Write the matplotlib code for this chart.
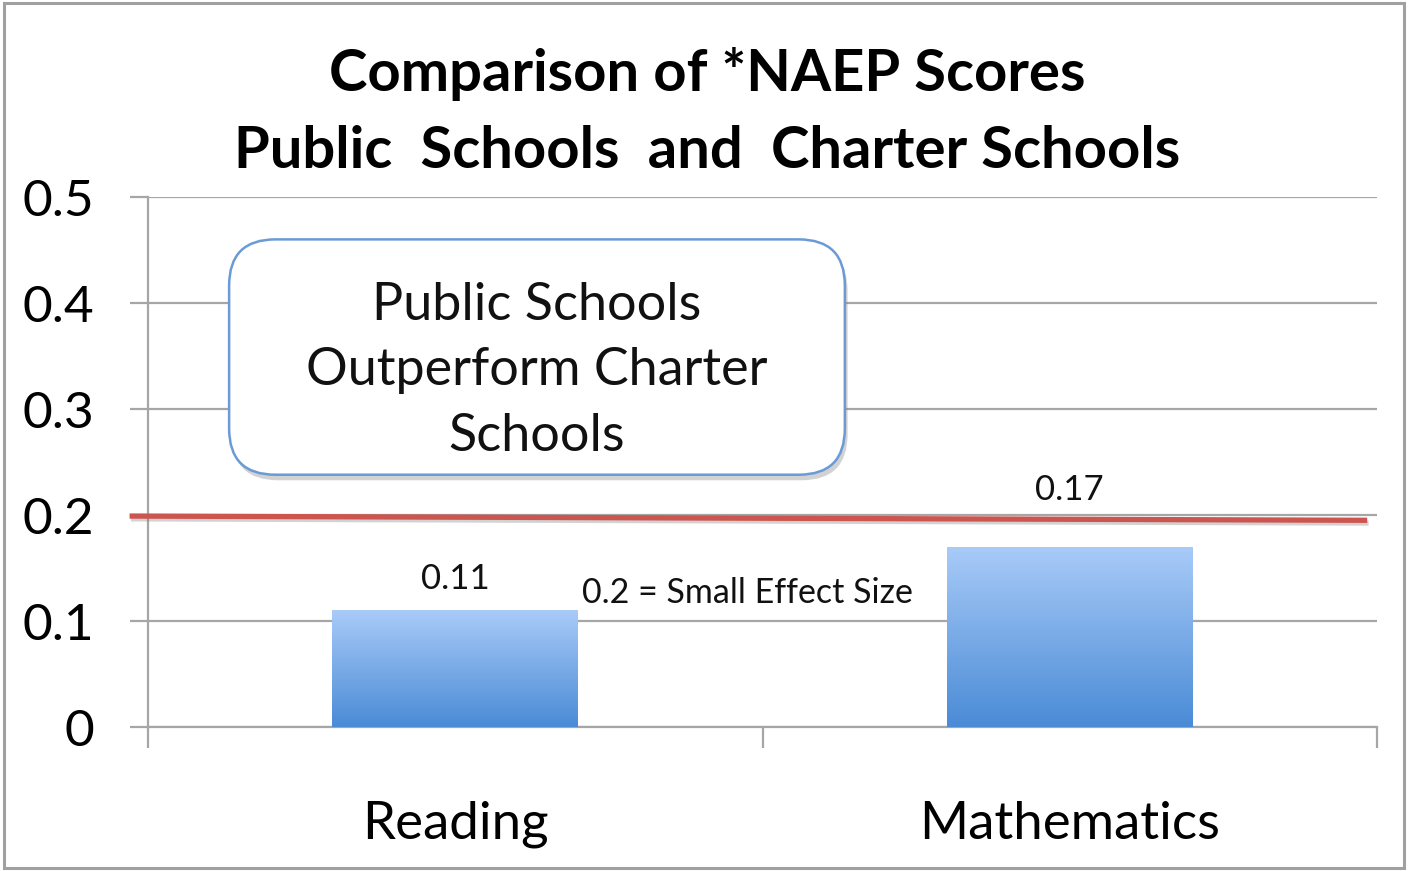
import numpy as np
import matplotlib
matplotlib.use("Agg")
import matplotlib.pyplot as plt
import matplotlib.patheffects as pe
from matplotlib.patches import FancyBboxPatch, Rectangle

plt.rcParams['font.family'] = ['Lato', 'DejaVu Sans']

# data
categories = ["Reading", "Mathematics"]
scores = [0.11, 0.17]
score_labels = ["0.11", "0.17"]
effect_size = 0.2
effect_label = "0.2 = Small Effect Size"
title = "Comparison of *NAEP Scores\nPublic  Schools  and  Charter Schools"
callout = "Public Schools\nOutperform Charter\nSchools"
yticks = [0, 0.1, 0.2, 0.3, 0.4, 0.5]
ytick_labels = ["0", "0.1", "0.2", "0.3", "0.4", "0.5"]

grid_col = "#a6a6a6"

fig = plt.figure(figsize=(14.08, 8.71), dpi=100)
# grey frame round the whole chart
fig.patches.append(Rectangle((0.003, 0.004), 0.994, 0.992, transform=fig.transFigure,
                             fill=False, edgecolor="#a0a0a0", linewidth=2.2))

ax = fig.add_axes([148/1408, 1 - 727/871, 1229/1408, 530/871])
x = np.arange(len(categories))

# bars with vertical gradient
bars = ax.bar(x, scores, width=0.4, color="none", edgecolor="none", zorder=3)
grad = np.linspace(0, 1, 256).reshape(-1, 1)
cmap = matplotlib.colors.LinearSegmentedColormap.from_list("g", ["#4a8bd6", "#a9cbf8"])
for b in bars:
    x0, y0 = b.get_x(), b.get_y()
    im = ax.imshow(grad, cmap=cmap, origin="lower", aspect="auto",
                   extent=(x0, x0 + b.get_width(), y0, y0 + b.get_height()), zorder=3)
    im.set_clip_path(b)
ax.set_xlim(-0.5, 1.5)
ax.set_ylim(0, 0.5)

# value labels (the maths one sits above the reference line)
for xi, v, lab, off in zip(x, scores, score_labels, [0.03, 0.054]):
    ax.text(xi, v + off, lab, ha="center", va="center", fontsize=25, color="#111111", zorder=5)

# grid and axes
ax.set_yticks(yticks)
ax.set_yticklabels(ytick_labels)
ax.yaxis.grid(True, color=grid_col, linewidth=1.6, zorder=0)
ax.set_axisbelow(True)
ax.set_xticks([-0.5, 0.5, 1.5])
ax.set_xticklabels([])
ax.set_xticks(x, minor=True)
ax.set_xticklabels(categories, minor=True)
ax.tick_params(axis="x", which="major", length=15, width=1.6, color=grid_col)
ax.tick_params(axis="x", which="minor", length=0, pad=53, labelsize=38)
ax.tick_params(axis="y", length=13, width=1.6, color=grid_col, pad=26, labelsize=37)
for s in ["top", "right"]:
    ax.spines[s].set_visible(False)
for s in ["left", "bottom"]:
    ax.spines[s].set_color(grid_col)
    ax.spines[s].set_linewidth(1.6)

# small effect size reference line
ax.plot([-0.53, 1.484], [effect_size - 0.001, effect_size - 0.005], color="#cc5550",
        linewidth=3.8, solid_capstyle="butt", clip_on=False, zorder=4,
        path_effects=[pe.SimpleLineShadow(offset=(1, -2), shadow_color="gray", alpha=0.35),
                      pe.Normal()])
ax.text(0.475, 0.126, effect_label, ha="center", va="center", fontsize=24.5, color="#111111", zorder=5)

# callout box
box = FancyBboxPatch((-0.368, 0.238), 1.002, 0.222,
                     boxstyle="round,pad=0,rounding_size=0.075",
                     mutation_aspect=614.5 / 1060,
                     facecolor="white", edgecolor="#6a9bd6", linewidth=1.8, zorder=6,
                     path_effects=[pe.SimplePatchShadow(offset=(2, -4), shadow_rgbFace="gray", alpha=0.35),
                                   pe.Normal()])
ax.add_patch(box)
ax.text(0.133, 0.336, callout, ha="center", va="center", fontsize=37.5,
        linespacing=1.48, color="#111111", zorder=7)

fig.text(0.502, 0.871, title, ha="center", va="center", fontsize=41.8, fontweight="bold",
         linespacing=1.56, color="#000000")

fig.savefig("out.png", dpi=100)
